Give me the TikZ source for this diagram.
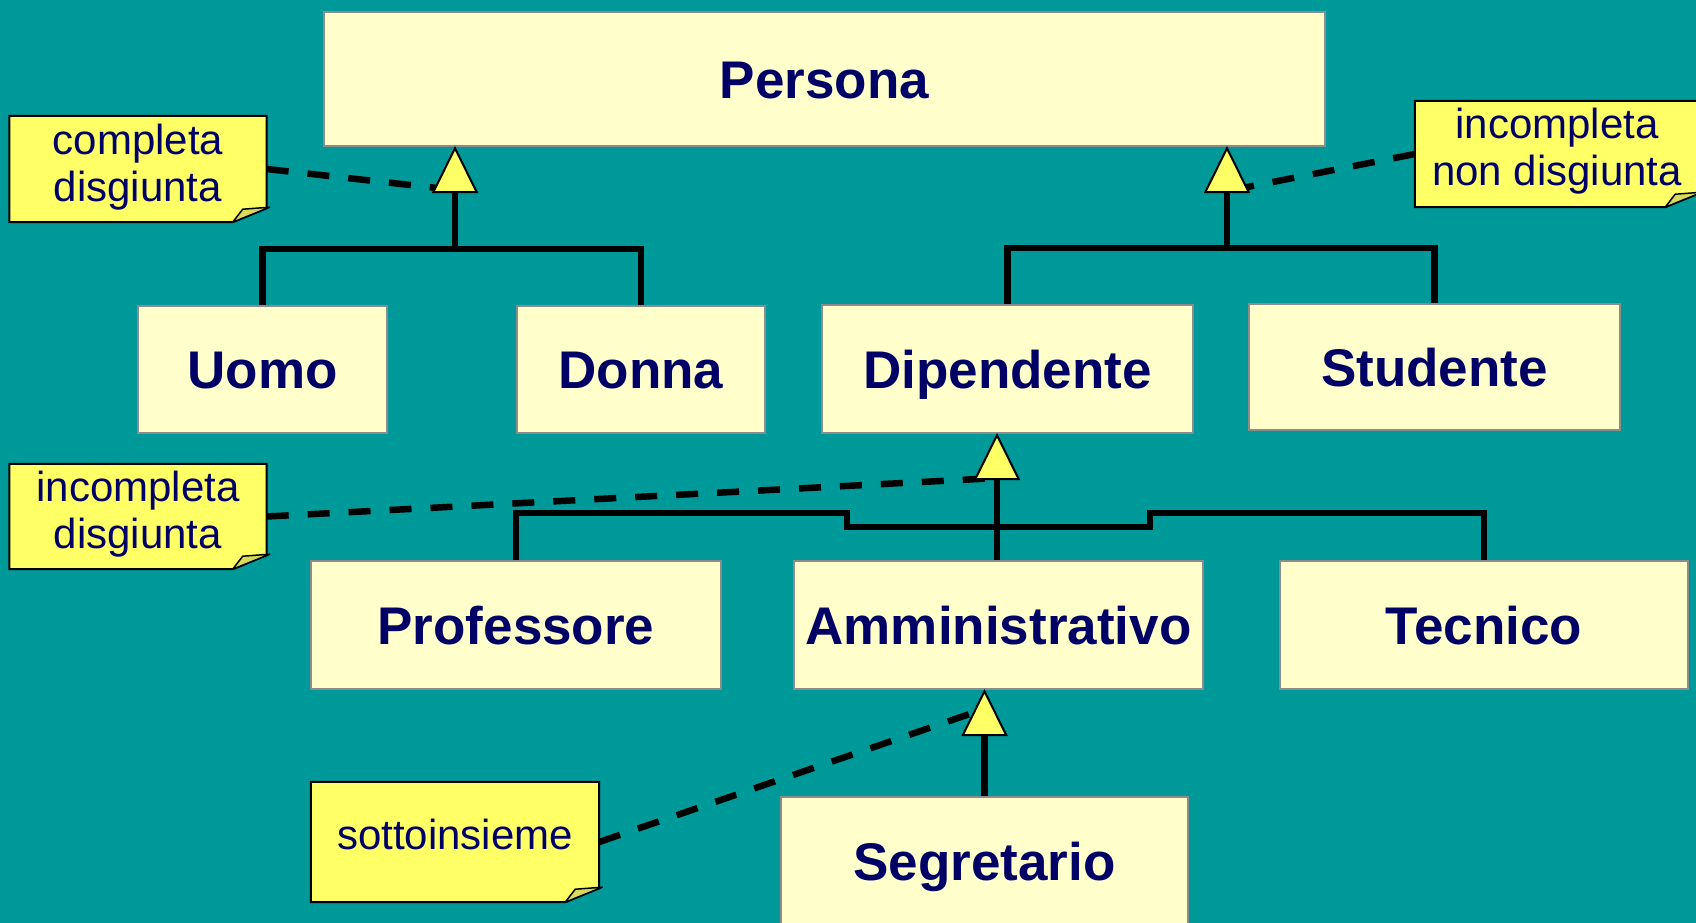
\documentclass[tikz,border=0pt]{standalone}
\usepackage{fontspec}
\setmainfont{Liberation Sans}
\usetikzlibrary{arrows.meta,backgrounds}
\definecolor{teal}{HTML}{009999}
\definecolor{boxfill}{HTML}{FFFFCC}
\definecolor{boxline}{HTML}{8C8C8C}
\definecolor{notefill}{HTML}{FFFF66}
\definecolor{foldfill}{HTML}{D9D95A}
\definecolor{navy}{HTML}{000066}
\tikzset{
  cls/.style={draw=boxline, line width=2pt, fill=boxfill, inner sep=0pt,
    text height=38pt, text depth=0pt,
    font=\fontsize{53}{60}\selectfont\bfseries, text=navy},
  notearea/.style={inner sep=0pt},
  notetext/.style={inner sep=0pt, align=center, text=navy,
    font=\fontsize{42}{46.5}\selectfont},
  noteline/.style={draw=black, line width=2pt, fill=notefill, line join=miter},
  foldline/.style={draw=black, line width=1.5pt, fill=foldfill, line join=round},
  conn/.style={line width=6.5pt, draw=black},
  gen/.style={-{Triangle[width=46pt,length=47pt,fill=notefill,line width=2pt]}},
  dashconn/.style={line width=6.5pt, draw=black, dash pattern=on 22pt off 19pt}
}
\newcommand{\noteshape}[1]{%
  \fill[noteline] (#1.north west) -- (#1.north east) -- ([yshift=14pt]#1.south east)
     -- ([xshift=-34pt]#1.south east) -- (#1.south west) -- cycle;
  \filldraw[foldline] ([xshift=3pt,yshift=15pt]#1.south east) -- ([xshift=-34pt]#1.south east)
     -- ([xshift=-24pt,yshift=13pt]#1.south east) -- cycle;}
\begin{document}
\begin{tikzpicture}[x=1pt,y=-1pt]
\useasboundingbox (0,0) rectangle (1696,922);
\clip (0,0) rectangle (1696,922);
\fill[teal] (-5,-5) rectangle (1701,927);

% class boxes
\node[cls, minimum width=1001pt, minimum height=134pt] (persona) at (824.5,79) {Persona};
\node[cls, minimum width=249pt, minimum height=127pt] (uomo) at (262.5,369.5) {Uomo};
\node[cls, minimum width=248pt, minimum height=127pt] (donna) at (641,369.5) {Donna};
\node[cls, minimum width=371pt, minimum height=128pt] (dip) at (1007.5,369) {Dipendente};
\node[cls, minimum width=371pt, minimum height=126pt] (stud) at (1434.5,367) {Studente};
\node[cls, minimum width=410pt, minimum height=128pt] (prof) at (516,625) {Professore};
\node[cls, minimum width=409pt, minimum height=128pt] (amm) at (998.5,625) {Amministrativo};
\node[cls, minimum width=408pt, minimum height=128pt] (tec) at (1484,625) {Tecnico};
\node[cls, minimum width=407pt, minimum height=128pt] (seg) at (984.5,861) {Segretario};

% notes
\node[notearea, minimum width=257pt, minimum height=106pt] (n1) at (138,169) {};
\node[notearea, minimum width=284pt, minimum height=106pt] (n2) at (1557,154) {};
\node[notearea, minimum width=257pt, minimum height=105pt] (n3) at (138,516.5) {};
\node[notearea, minimum width=288pt, minimum height=120pt] (n4) at (455,842) {};
\noteshape{n1}
\noteshape{n2}
\noteshape{n3}
\noteshape{n4}
\node[notetext] (t1) at ([yshift=2pt]n1.center) {completa\\disgiunta};
\node[notetext] (t2) at ([yshift=3pt]n2.center) {incompleta\\non disgiunta};
\node[notetext] (t3) at ([yshift=2.5pt]n3.center) {incompleta\\disgiunta};
\node[notetext] (t4) at ([yshift=8pt]n4.center) {sottoinsieme};

% junction coordinates
\coordinate (j1) at (455,249);
\coordinate (j2) at (1227,248);
\coordinate (b1) at (455,190);
\coordinate (b2) at (1227,191);
\coordinate (b3) at (997,478);
\coordinate (b4) at (984,709);

% dashed constraint lines
\draw[dashconn] (n1.east) -- (b1);
\draw[dashconn] (n2.west) -- (b2);
\draw[dashconn] (n3.east) -- (b3);
\draw[dashconn] (n4.east) -- (b4);

% hierarchy 1
\draw[conn] (uomo.north) |- (j1) -| (donna.north);
\draw[conn, gen] (j1) -- ([yshift=1pt]j1 |- persona.south);
% hierarchy 2
\draw[conn] (dip.north) |- (j2) -| (stud.north);
\draw[conn, gen] (j2) -- ([yshift=1pt]j2 |- persona.south);
% hierarchy 3
\draw[conn, line join=miter] (prof.north) -- (prof.north |- 0,513) -- (847,513) -- (847,527)
   -- (1150,527) -- (1150,513) -- (tec.north |- 0,513) -- (tec.north);
\draw[conn, gen] (amm.north -| b3) -- ([yshift=1pt]b3 |- dip.south);
% hierarchy 4
\draw[conn, gen] (seg.north) -- ([yshift=1pt]seg.north |- amm.south);
\end{tikzpicture}
\end{document}
